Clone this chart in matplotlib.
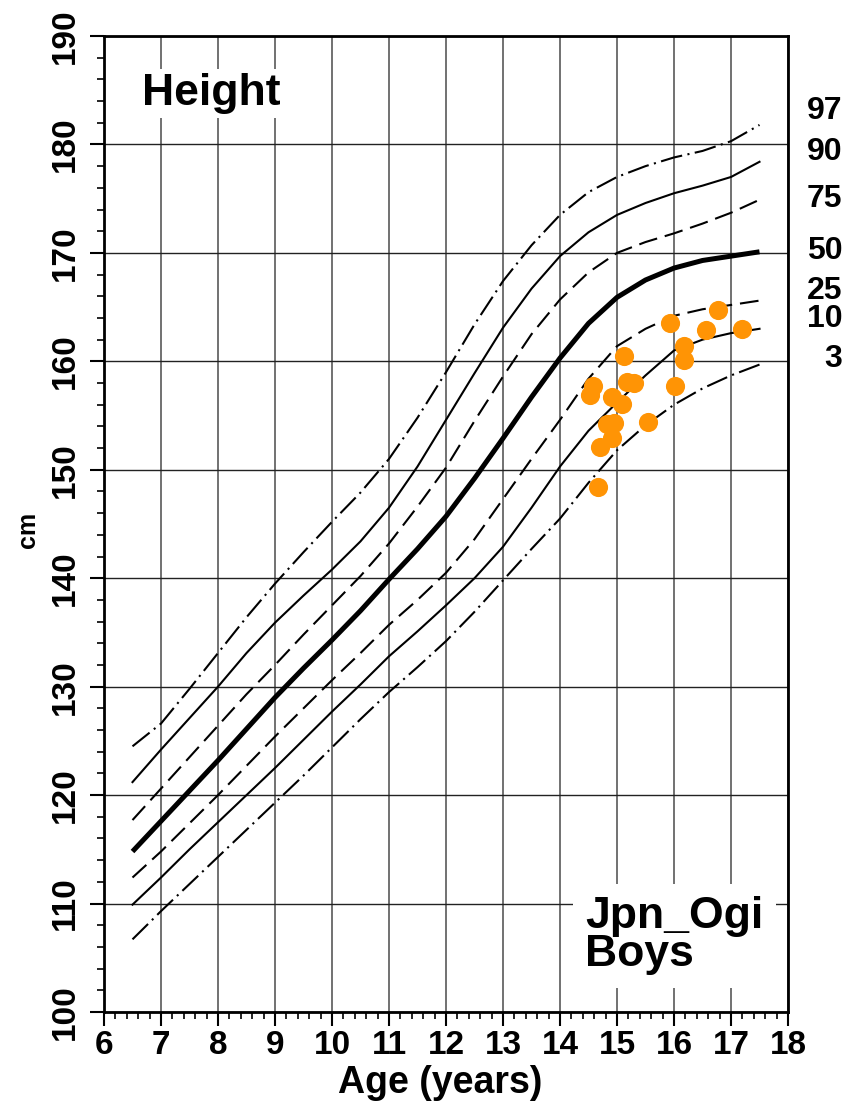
import matplotlib
matplotlib.use("Agg")
import matplotlib.pyplot as plt
from matplotlib.ticker import MultipleLocator

plt.rcParams['font.family'] = ['Liberation Sans', 'DejaVu Sans']
plt.rcParams['font.weight'] = 'bold'

# reference percentile curves (cm) by age
ages = [6.5, 7, 7.5, 8, 8.5, 9, 9.5, 10, 10.5, 11, 11.5, 12, 12.5, 13, 13.5,
        14, 14.5, 15, 15.5, 16, 16.5, 17, 17.5]
p97 = [124.5, 126.6, 129.8, 133.1, 136.4, 139.5, 142.4, 145.2, 147.9, 151.0, 154.8,
       159.0, 163.4, 167.4, 170.7, 173.5, 175.6, 177.0, 178.0, 178.8, 179.4, 180.3, 181.8]
p90 = [121.2, 124.2, 127.1, 130.0, 133.1, 135.9, 138.4, 140.8, 143.4, 146.5, 150.3,
       154.6, 158.9, 163.1, 166.7, 169.7, 171.9, 173.5, 174.6, 175.5, 176.2, 177.0, 178.4]
p75 = [117.7, 120.6, 123.5, 126.4, 129.3, 132.0, 134.8, 137.5, 140.2, 143.2, 146.6,
       150.2, 154.5, 158.6, 162.5, 165.7, 168.2, 170.0, 171.0, 171.8, 172.7, 173.7, 174.9]
p50 = [114.8, 117.6, 120.4, 123.2, 126.1, 129.0, 131.7, 134.3, 137.0, 139.9, 142.7,
       145.7, 149.2, 152.9, 156.7, 160.3, 163.5, 165.9, 167.5, 168.6, 169.3, 169.7, 170.1]
p25 = [112.4, 114.8, 117.4, 120.0, 122.7, 125.4, 128.0, 130.6, 133.1, 135.7, 138.0,
       140.5, 143.6, 147.3, 151.0, 154.6, 158.4, 161.4, 163.0, 164.2, 164.8, 165.2, 165.6]
p10 = [109.9, 112.4, 115.0, 117.5, 120.0, 122.5, 125.1, 127.7, 130.2, 132.8, 135.1,
       137.5, 140.0, 142.9, 146.5, 150.3, 153.6, 156.2, 158.7, 161.0, 162.0, 162.6, 163.0]
p3 = [106.7, 109.3, 111.8, 114.3, 116.8, 119.3, 121.8, 124.4, 127.0, 129.5, 131.8,
      134.2, 136.9, 139.8, 142.7, 145.5, 148.8, 151.8, 154.1, 156.0, 157.5, 158.7, 159.7]

# label positions at the right edge
pct_names = ['97', '90', '75', '50', '25', '10', '3']
pct_label_y = [183.1, 179.3, 175.0, 170.2, 166.5, 163.9, 160.2]

# measured boys
boy_age = [16.78, 15.93, 16.56, 17.20, 16.18, 16.18, 15.12, 15.17, 15.29, 14.58,
           14.53, 16.02, 14.91, 15.09, 15.55, 14.82, 14.95, 14.91, 14.70, 14.67]
boy_height = [164.7, 163.5, 162.9, 163.0, 161.4, 160.1, 160.5, 158.1, 158.0, 157.7,
              156.9, 157.7, 156.7, 156.1, 154.4, 154.2, 154.3, 152.9, 152.1, 148.4]

fig = plt.figure(figsize=(8.48, 11.02), dpi=100)
ax = fig.add_axes([104/848, 1 - 1012/1102, (788-104)/848, (1012-36)/1102])

ax.set_xlim(6, 18)
ax.set_ylim(100, 190)

ax.xaxis.set_major_locator(MultipleLocator(1))
ax.xaxis.set_minor_locator(MultipleLocator(0.2))
ax.yaxis.set_major_locator(MultipleLocator(10))
ax.yaxis.set_minor_locator(MultipleLocator(2))

ax.tick_params(which='major', direction='out', length=10, width=1.5, labelsize=24)
ax.tick_params(which='minor', direction='out', length=5, width=1.2)
ax.tick_params(axis='x', which='major', pad=3)
ax.tick_params(axis='y', which='major', pad=7)
for lab in ax.get_yticklabels():
    lab.set_rotation(90)
    lab.set_va('center')
for lab in ax.get_xticklabels() + ax.get_yticklabels():
    lab.set_fontweight('bold')

for s in ax.spines.values():
    s.set_linewidth(2.0)

ax.grid(axis='x', which='major', color='#666666', lw=1.3, zorder=0)
ax.grid(axis='y', which='major', color='#222222', lw=1.0, zorder=0)
ax.set_axisbelow(True)

dashdot = (10.5, 2.6, 1, 2.6)
dashed = (9.0, 3.8)
ax.plot(ages, p97, color='black', lw=1.5, dashes=dashdot)
ax.plot(ages, p90, color='black', lw=1.5)
ax.plot(ages, p75, color='black', lw=1.5, dashes=dashed)
ax.plot(ages, p50, color='black', lw=3.6, solid_capstyle='butt')
ax.plot(ages, p25, color='black', lw=1.5, dashes=dashed)
ax.plot(ages, p10, color='black', lw=1.5)
ax.plot(ages, p3, color='black', lw=1.5, dashes=dashdot)

ax.plot(boy_age, boy_height, 'o', color='#ff9405', ms=13.8, mew=0, zorder=5)

for name, yv in zip(pct_names, pct_label_y):
    ax.text(18.95, yv, name, ha='right', va='center', fontsize=23,
            fontweight='bold', clip_on=False)

ax.text(6.67, 183.6, 'Height', fontsize=32, fontweight='bold', va='baseline',
        bbox=dict(facecolor='white', edgecolor='none', pad=3), zorder=6)
ax.text(14.44, 104.2, 'Jpn_Ogi\nBoys', fontsize=32, fontweight='bold',
        va='baseline', ha='left', linespacing=0.92,
        bbox=dict(facecolor='white', edgecolor='none', pad=9), zorder=6)

fig.text(28/848, 1 - 530/1102, 'cm', rotation=90, fontsize=18,
         fontweight='bold', ha='center', va='center')
fig.text(440/848, 1 - 1083/1102, 'Age (years)', fontsize=27,
         fontweight='bold', ha='center', va='center')

fig.savefig('out.png', dpi=100)
